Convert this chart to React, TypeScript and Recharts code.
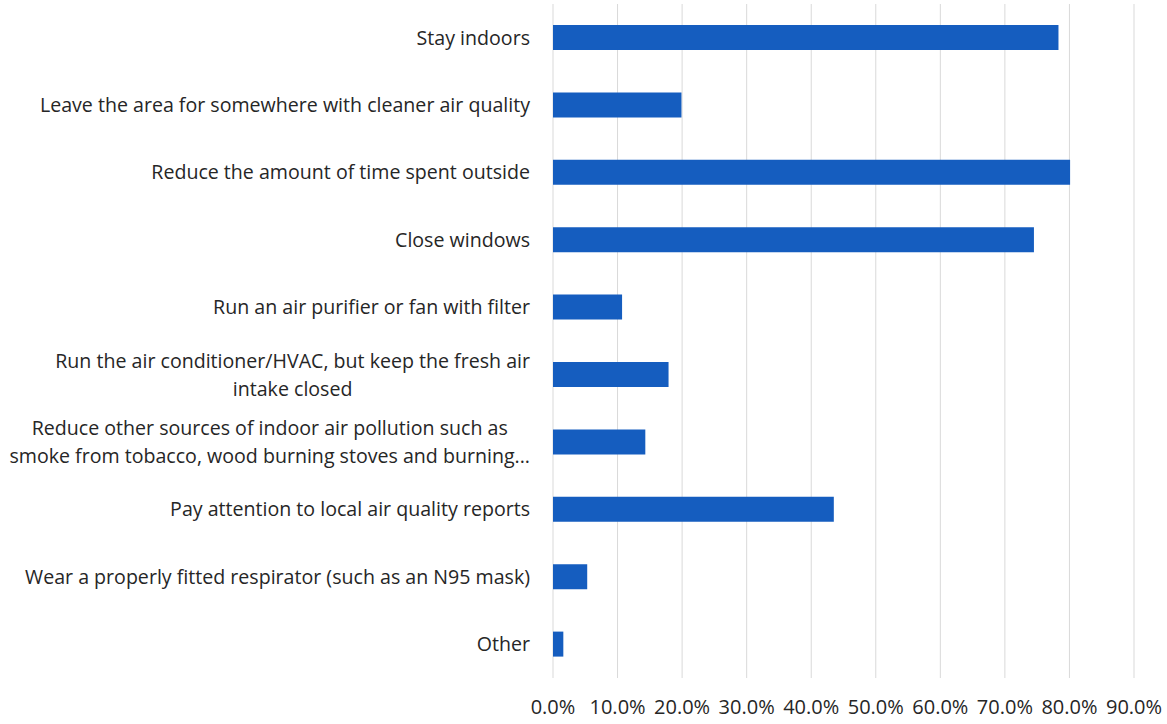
import React from 'react';
import { BarChart, Bar, XAxis, YAxis, CartesianGrid } from 'recharts';

const categories = [
    'Stay indoors',
    'Leave the area for somewhere with cleaner air quality',
    'Reduce the amount of time spent outside',
    'Close windows',
    'Run an air purifier or fan with filter',
    'Run the air conditioner/HVAC, but keep the fresh air\nintake closed',
    'Reduce other sources of indoor air pollution such as\nsmoke from tobacco, wood burning stoves and burning...',
    'Pay attention to local air quality reports',
    'Wear a properly fitted respirator (such as an N95 mask)',
    'Other',
];

const shares = [0.783, 0.199, 0.801, 0.745, 0.107, 0.179, 0.143, 0.435, 0.053, 0.016];

const xTicks = [0, 0.1, 0.2, 0.3, 0.4, 0.5, 0.6, 0.7, 0.8, 0.9];

const FONT = '"Open Sans", sans-serif';
const LABEL_SIZE = 19.6;
const TICK_SIZE = 20;
const LINE_HEIGHT = 28;

const chartData = categories.map((name, i) => ({ name, value: shares[i] }));

let ctx: CanvasRenderingContext2D | null = null;
const measure = (text: string) => {
    if (!ctx) {
        ctx = document.createElement('canvas').getContext('2d');
    }
    if (!ctx) return text.length * LABEL_SIZE * 0.5;
    ctx.font = `${LABEL_SIZE}px "Open Sans"`;
    return ctx.measureText(text).width;
};

// wrapped labels are centred on their own block, block is right aligned
const CategoryTick = (props: any) => {
    const { x, y, payload } = props;
    const lines: string[] = String(payload.value).split('\n');
    const blockWidth = Math.max(...lines.map(measure));
    const cx = x - blockWidth / 2;
    return (
        <g>
            {lines.map((line, i) => (
                <text
                    key={i}
                    x={cx}
                    y={y + (i - (lines.length - 1) / 2) * LINE_HEIGHT}
                    dy="0.35em"
                    textAnchor="middle"
                    fill="#262626"
                    fontSize={LABEL_SIZE}
                    fontFamily={FONT}
                >
                    {line}
                </text>
            ))}
        </g>
    );
};

export default function App() {
    return (
        <div style={{ width: 1167, height: 724, background: '#fff' }}>
            <style>{'body{margin:0}'}</style>
            <BarChart
                layout="vertical"
                width={1167}
                height={724}
                data={chartData}
                margin={{ top: 4, right: 33, left: 0, bottom: 16 }}
            >
                <CartesianGrid horizontal={false} stroke="#d9d9d9" />
                <XAxis
                    type="number"
                    domain={[0, 0.9]}
                    ticks={xTicks}
                    interval={0}
                    axisLine={false}
                    tickLine={false}
                    tickMargin={16}
                    height={30}
                    tickFormatter={(v: number) => `${(v * 100).toFixed(1)}%`}
                    tick={{ fill: '#262626', fontSize: TICK_SIZE, fontFamily: FONT }}
                />
                <YAxis
                    type="category"
                    dataKey="name"
                    width={553}
                    axisLine={false}
                    tickLine={false}
                    tickMargin={17}
                    interval={0}
                    tick={<CategoryTick />}
                />
                <Bar dataKey="value" fill="#155dbf" barSize={25} isAnimationActive={false} />
            </BarChart>
        </div>
    );
}
